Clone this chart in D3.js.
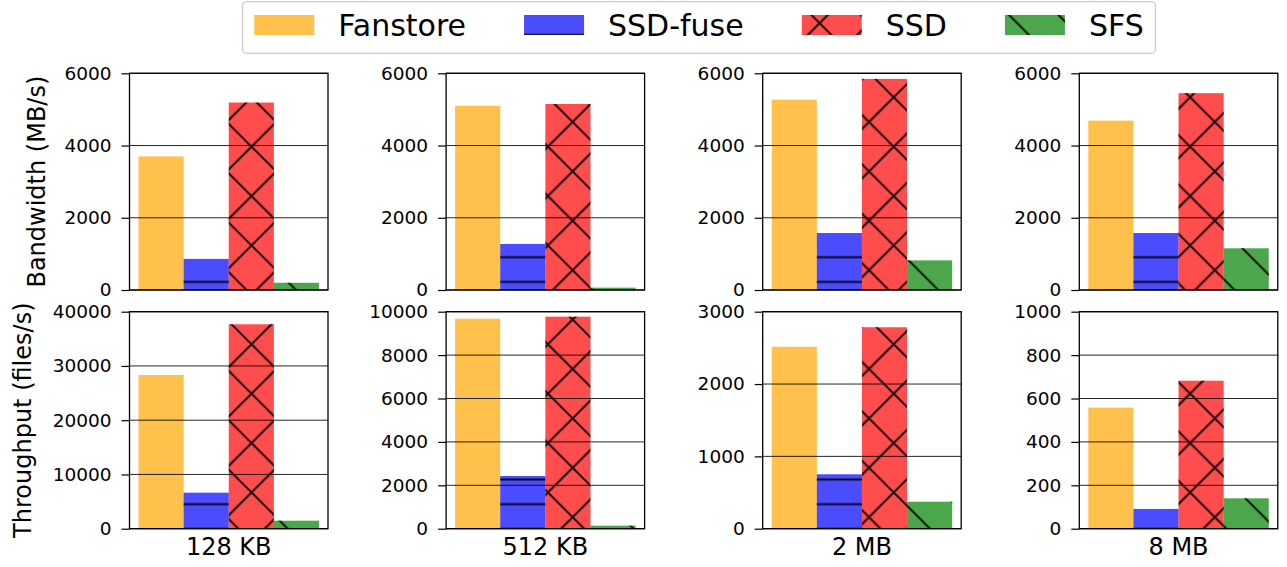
<!DOCTYPE html>
<html><head><meta charset="utf-8">
<script src="https://cdn.jsdelivr.net/npm/d3@7"></script>
<style>body{margin:0;background:#fff} svg{display:block} text{font-family:"DejaVu Sans",sans-serif;fill:#000}</style>
</head><body><svg id="c" width="1287" height="567"></svg>
<script>
const categories = ["128 KB", "512 KB", "2 MB", "8 MB"];
const seriesNames = ["Fanstore", "SSD-fuse", "SSD", "SFS"];
const seriesColors = ["#ffa500", "#0000ff", "#ff0000", "#008000"];
const seriesHatch = [null, "hatch-h", "hatch-x", "hatch-b"];
// Bandwidth (MB/s), top row
const bwFanstore = [3700, 5100, 5270, 4690];
const bwSsdFuse  = [860, 1275, 1570, 1570];
const bwSsd      = [5190, 5150, 5845, 5450];
const bwSfs      = [200, 65, 820, 1155];
// Throughput (files/s), bottom row
const tpFanstore = [28330, 9680, 2515, 558];
const tpSsdFuse  = [6640, 2430, 752, 91];
const tpSsd      = [37680, 9770, 2785, 682];
const tpSfs      = [1475, 140, 373, 140];
// tick labels
const bwTicks = [0, 2000, 4000, 6000];
const tpTicks = [
  [0, 10000, 20000, 30000, 40000],
  [0, 2000, 4000, 6000, 8000, 10000],
  [0, 1000, 2000, 3000],
  [0, 200, 400, 600, 800, 1000]
];
const yLabels = ["Bandwidth (MB/s)", "Throughput (files/s)"];

const bwRows = [bwFanstore, bwSsdFuse, bwSsd, bwSfs];
const tpRows = [tpFanstore, tpSsdFuse, tpSsd, tpSfs];

const svg = d3.select("#c");
const defs = svg.append("defs");

// hatch patterns anchored to the page, like matplotlib
const HS = 24.7, DS = 49.4, phaseH = 10.2, c0 = 43.3, c1 = 3;
const hw = 2;
const pH = defs.append("pattern").attr("id", "hatch-h").attr("patternUnits", "userSpaceOnUse")
  .attr("width", 20).attr("height", HS).attr("y", phaseH - HS / 2);
pH.append("line").attr("x1", -1).attr("x2", 21).attr("y1", HS / 2).attr("y2", HS / 2)
  .attr("stroke", "#000").attr("stroke-width", hw);

function diagPattern(id, back, fwd) {
  const p = defs.append("pattern").attr("id", id).attr("patternUnits", "userSpaceOnUse")
    .attr("width", DS).attr("height", DS);
  for (let k = -2; k <= 2; k++) {
    if (back) p.append("line").attr("x1", -2).attr("y1", c0 + k * DS - 2).attr("x2", DS + 2).attr("y2", c0 + k * DS + DS + 2)
      .attr("stroke", "#000").attr("stroke-width", hw);
    if (fwd) p.append("line").attr("x1", -2).attr("y1", c1 + k * DS + 2).attr("x2", DS + 2).attr("y2", c1 + k * DS - DS - 2)
      .attr("stroke", "#000").attr("stroke-width", hw);
  }
}
diagPattern("hatch-x", true, true);
diagPattern("hatch-b", true, false);

const panelW = 198.5, panelStep = 316.6, firstLeft = 129.5;
const rows = [
  { top: 73.3, bottom: 290, data: bwRows, ticks: () => bwTicks, label: yLabels[0], labelX: 37 },
  { top: 311.7, bottom: 528.7, data: tpRows, ticks: c => tpTicks[c], label: yLabels[1], labelX: 23 }
];

rows.forEach((row, r) => {
  categories.forEach((cat, c) => {
    const left = firstLeft + c * panelStep, right = left + panelW;
    const ticks = row.ticks(c);
    const x = d3.scaleLinear().domain([-0.2, 4.2]).range([left, right]);
    const y = d3.scaleLinear().domain([0, d3.max(ticks)]).range([row.bottom, row.top]);
    const vals = seriesNames.map((s, i) => ({ i, v: row.data[i][c] }));

    const g = svg.append("g");
    g.selectAll("rect.bar").data(vals).join("rect").attr("class", "bar")
      .attr("x", d => x(d.i)).attr("width", d => x(d.i + 1) - x(d.i))
      .attr("y", d => y(d.v)).attr("height", d => y(0) - y(d.v))
      .attr("fill", d => seriesColors[d.i]).attr("fill-opacity", 0.7);
    g.selectAll("rect.hatch").data(vals.filter(d => seriesHatch[d.i])).join("rect").attr("class", "hatch")
      .attr("x", d => x(d.i)).attr("width", d => x(d.i + 1) - x(d.i))
      .attr("y", d => y(d.v)).attr("height", d => y(0) - y(d.v))
      .attr("fill", d => `url(#${seriesHatch[d.i]})`).attr("opacity", 0.9);

    // grid
    g.selectAll("line.grid").data(ticks).join("line").attr("class", "grid")
      .attr("x1", left).attr("x2", right).attr("y1", d => y(d)).attr("y2", d => y(d))
      .attr("stroke", "#000").attr("stroke-opacity", 0.85).attr("stroke-width", 1);

    // axis
    const ax = svg.append("g").attr("transform", `translate(${left},0)`)
      .call(d3.axisLeft(y).tickValues(ticks).tickFormat(d3.format("d")).tickSize(8).tickPadding(10));
    ax.select(".domain").remove();
    ax.selectAll(".tick line").attr("stroke", "#000").attr("stroke-width", 1.2);
    ax.selectAll(".tick text").attr("font-size", 18.5).attr("font-family", "DejaVu Sans").attr("fill", "#000");

    // frame
    svg.append("rect").attr("x", left).attr("y", row.top).attr("width", panelW).attr("height", row.bottom - row.top)
      .attr("fill", "none").attr("stroke", "#000").attr("stroke-width", 1.3);

    if (r === 1) {
      svg.append("text").attr("x", (left + right) / 2).attr("y", 555).attr("text-anchor", "middle")
        .attr("font-size", 24).text(cat);
    }
  });
  const cy = (row.top + row.bottom) / 2;
  svg.append("text").attr("transform", `translate(${row.labelX},${cy}) rotate(-90)`)
    .attr("text-anchor", "middle").attr("dy", "0.35em").attr("font-size", 24).text(row.label);
});

// legend
const lg = svg.append("g");
const box = lg.append("rect").attr("y", 1.7).attr("height", 51.6).attr("rx", 4)
  .attr("fill", "#fff").attr("fill-opacity", 0.8).attr("stroke", "#ccc").attr("stroke-width", 1.3);
const patchW = 60, patchH = 20, patchY = 15, textGap = 24, entryGap = 58, pad = 11.7;
const entries = seriesNames.map((name, i) => {
  const t = lg.append("text").attr("y", 36).attr("font-size", 30).text(name);
  return { name, i, t, w: t.node().getComputedTextLength() };
});
const total = pad * 2 + d3.sum(entries, e => patchW + textGap + e.w) + entryGap * (entries.length - 1);
const bx = 699 - total / 2;
box.attr("x", bx).attr("width", total);
let cx = bx + pad;
entries.forEach(e => {
  lg.append("rect").attr("x", cx).attr("y", patchY).attr("width", patchW).attr("height", patchH)
    .attr("fill", seriesColors[e.i]).attr("fill-opacity", 0.7);
  if (seriesHatch[e.i]) lg.append("rect").attr("x", cx).attr("y", patchY).attr("width", patchW).attr("height", patchH)
    .attr("fill", `url(#${seriesHatch[e.i]})`).attr("opacity", 0.9);
  e.t.attr("x", cx + patchW + textGap).raise();
  cx += patchW + textGap + e.w + entryGap;
});
</script></body></html>
